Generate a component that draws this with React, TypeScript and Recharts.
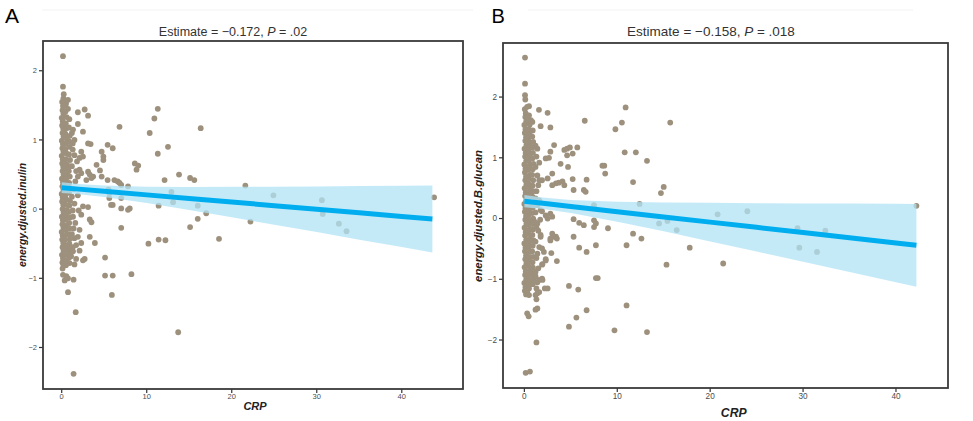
import React from "react";
import { ComposedChart, Scatter, Area, Line, XAxis, YAxis } from "recharts";

const FONT = "'Liberation Sans', Arial, sans-serif";
const POINT_COLOR = "#9d917d";
const FIT_COLOR = "#00aeef";
const BAND_COLOR = "#b0e3f5";

const X_TICKS = [0, 10, 20, 30, 40];
const Y_TICKS = [-2, -1, 0, 1, 2];

// Panel A: CRP vs energy-adjusted inulin
const columnA: [number, number][] = [
  [0.05, 1.55], [0.15, 1.49], [0.1, 1.43], [0.2, 1.38], [0.0, 1.32], [0.12, 1.27], [0.05, 1.21], [0.18, 1.16],
  [0.1, 1.1], [0.22, 1.05], [0.02, 0.99], [0.14, 0.94], [0.08, 0.88], [0.2, 0.83], [0.0, 0.77], [0.12, 0.72],
  [0.06, 0.66], [0.18, 0.61], [0.1, 0.55], [0.22, 0.5], [0.03, 0.44], [0.15, 0.39], [0.08, 0.33], [0.2, 0.28],
  [0.0, 0.22], [0.12, 0.17], [0.05, 0.11], [0.18, 0.06], [0.1, 0.0], [0.22, -0.05], [0.02, -0.11], [0.14, -0.16],
  [0.08, -0.22], [0.2, -0.27], [0.0, -0.33], [0.12, -0.38], [0.06, -0.44], [0.18, -0.49], [0.1, -0.55], [0.22, -0.6],
  [0.03, -0.66], [0.15, -0.71], [0.08, -0.77], [0.2, -0.82], [0.1, -0.86],
  [0.5, 1.52], [0.45, 1.41], [0.58, 1.33], [0.48, 1.24], [0.55, 1.17], [0.42, 1.09], [0.6, 1.02], [0.5, 0.95],
  [0.45, 0.87], [0.58, 0.8], [0.48, 0.72], [0.55, 0.65], [0.42, 0.58], [0.6, 0.5], [0.5, 0.43], [0.45, 0.36],
  [0.58, 0.29], [0.48, 0.21], [0.55, 0.14], [0.42, 0.07], [0.6, -0.01], [0.5, -0.08], [0.45, -0.15], [0.58, -0.23],
  [0.48, -0.3], [0.55, -0.37], [0.42, -0.44], [0.6, -0.52], [0.5, -0.59], [0.45, -0.66], [0.58, -0.74], [0.5, -0.81],
  [0.9, 1.3], [0.85, 1.18], [0.95, 1.06], [0.88, 0.98], [0.92, 0.9], [0.86, 0.79], [0.98, 0.71], [0.9, 0.62],
  [0.84, 0.55], [0.95, 0.47], [0.88, 0.38], [0.92, 0.31], [0.86, 0.24], [0.98, 0.12], [0.9, 0.05], [0.84, -0.04],
  [0.95, -0.12], [0.88, -0.2], [0.92, -0.28], [0.86, -0.36], [0.98, -0.43], [0.9, -0.5], [0.84, -0.57], [0.95, -0.64],
  [0.88, -0.7], [0.92, -0.78],
  [1.3, 0.95], [1.5, 0.78], [1.2, 0.62], [1.6, 0.4], [1.4, 0.29], [1.2, 0.18], [1.5, 0.08], [1.3, -0.02],
  [1.6, -0.2], [1.4, -0.28], [1.2, -0.36], [1.5, -0.42], [1.7, -0.52], [1.3, -0.55], [1.1, -0.68], [1.5, -0.8],
  [1.2, 1.1], [1.7, 0.55], [1.9, 0.2], [2.0, -0.02], [1.9, -0.4], [2.1, -0.6],
];

const spreadA: [number, number][] = [
  [0.15, 2.21], [0.15, 1.77], [0.24, 1.66], [0.2, 1.6], [0.5, 1.55], [0.74, 1.58], [0.74, 1.45], [0.4, 1.5],
  [1.9, 1.4], [2.7, 1.44], [3.1, 1.35], [1.9, 1.23], [2.5, 1.12], [1.33, 1.15],
  [6.8, 1.19], [10.35, 1.1], [10.9, 1.31], [11.3, 1.45], [16.35, 1.17],
  [1.5, 1.0], [1.3, 0.86], [3.1, 0.95], [3.4, 0.94], [2.3, 0.83], [2.1, 0.74], [2.5, 0.76], [1.8, 0.69],
  [4.1, 0.64], [4.7, 0.83], [4.9, 0.76], [4.9, 0.71], [5.4, 0.93], [6.0, 0.88],
  [2.1, 0.57], [2.3, 0.52], [1.9, 0.47], [3.1, 0.54], [3.3, 0.5], [3.7, 0.47], [2.9, 0.42], [3.5, 0.45],
  [4.5, 0.56], [4.7, 0.47], [5.4, 0.42], [6.2, 0.42], [6.6, 0.4], [6.8, 0.38], [7.0, 0.35], [7.8, 0.33],
  [8.6, 0.66], [9.0, 0.63], [8.8, 0.57], [11.3, 0.8], [12.5, 0.9], [13.8, 0.5], [12.1, 0.42], [15.1, 0.45], [15.6, 0.42],
  [5.5, 0.28], [5.6, 0.23], [5.6, 0.16], [5.8, 0.06], [7.0, 0.16],
  [12.9, 0.25], [13.1, 0.1], [16.0, 0.05], [17.0, -0.06], [16.0, -0.14], [15.1, -0.26], [11.4, 0.05],
  [11.4, -0.44], [12.2, -0.45], [10.2, -0.5], [7.0, -0.27], [6.0, 0.06], [7.0, 0.01], [7.8, -0.01], [8.0, 0.01],
  [2.5, 0.04], [3.1, 0.03], [2.3, -0.08], [3.3, -0.15], [3.5, -0.19], [2.1, -0.3], [3.3, -0.4], [3.9, -0.49], [2.3, -0.49],
  [5.1, -0.7], [18.5, -0.43], [21.6, 0.34], [22.2, -0.18], [24.9, 0.2], [30.6, 0.13], [30.7, -0.07], [32.6, -0.21],
  [33.5, -0.32], [43.8, 0.17],
  [1.33, -0.11], [1.33, -0.61], [1.7, -0.72], [2.5, -0.74], [2.7, -0.72],
  [0.15, -0.95], [0.55, -0.97], [0.74, -1.0], [0.35, -1.03], [1.4, -1.02], [0.74, -1.2], [1.65, -1.49], [1.4, -2.38],
  [5.1, -0.96], [6.0, -0.96], [5.9, -1.24], [8.2, -0.94], [13.7, -1.78],
];

// fitted line and 95% band, panel A
const bandCrpA = [0, 2, 5, 10, 15, 20, 25, 30, 35, 40, 43.6];
const fitA = [0.31, 0.289, 0.258, 0.206, 0.154, 0.102, 0.05, -0.002, -0.054, -0.106, -0.143];
const lowA = [0.232, 0.214, 0.176, 0.087, -0.013, -0.118, -0.225, -0.332, -0.441, -0.549, -0.627];
const highA = [0.388, 0.364, 0.34, 0.325, 0.321, 0.322, 0.325, 0.328, 0.333, 0.337, 0.341];

// Panel B: CRP vs energy-adjusted beta-glucan
const columnB: [number, number][] = [
  [0.05, 1.8], [0.15, 1.73], [0.1, 1.67], [0.2, 1.6], [0.0, 1.54], [0.12, 1.47], [0.05, 1.41], [0.18, 1.34],
  [0.1, 1.28], [0.22, 1.21], [0.02, 1.15], [0.14, 1.08], [0.08, 1.02], [0.2, 0.95], [0.0, 0.89], [0.12, 0.82],
  [0.06, 0.76], [0.18, 0.69], [0.1, 0.63], [0.22, 0.56], [0.03, 0.5], [0.15, 0.43], [0.08, 0.37], [0.2, 0.3],
  [0.0, 0.24], [0.12, 0.17], [0.05, 0.11], [0.18, 0.04], [0.1, -0.02], [0.22, -0.09], [0.02, -0.15], [0.14, -0.22],
  [0.08, -0.28], [0.2, -0.35], [0.0, -0.41], [0.12, -0.48], [0.06, -0.54], [0.18, -0.61], [0.1, -0.67], [0.22, -0.74],
  [0.03, -0.8], [0.15, -0.87], [0.08, -0.93], [0.2, -1.0], [0.0, -1.06], [0.12, -1.13], [0.05, -1.19], [0.18, -1.25],
  [0.5, 1.7], [0.45, 1.62], [0.58, 1.55], [0.48, 1.47], [0.55, 1.4], [0.42, 1.32], [0.6, 1.25], [0.5, 1.17],
  [0.45, 1.1], [0.58, 1.02], [0.48, 0.95], [0.55, 0.87], [0.42, 0.8], [0.6, 0.72], [0.5, 0.65], [0.45, 0.57],
  [0.58, 0.5], [0.48, 0.42], [0.55, 0.35], [0.42, 0.27], [0.6, 0.2], [0.5, 0.12], [0.45, 0.05], [0.58, -0.03],
  [0.48, -0.1], [0.55, -0.18], [0.42, -0.25], [0.6, -0.33], [0.5, -0.4], [0.45, -0.48], [0.58, -0.55], [0.48, -0.63],
  [0.55, -0.7], [0.42, -0.78], [0.6, -0.85], [0.5, -0.93], [0.45, -1.0], [0.58, -1.08], [0.5, -1.15],
  [0.9, 1.45], [0.85, 1.35], [0.95, 1.26], [0.88, 1.17], [0.92, 1.08], [0.86, 0.99], [0.98, 0.9], [0.9, 0.81],
  [0.84, 0.72], [0.95, 0.63], [0.88, 0.54], [0.92, 0.45], [0.86, 0.36], [0.98, 0.27], [0.9, 0.18], [0.84, 0.09],
  [0.95, 0.0], [0.88, -0.09], [0.92, -0.18], [0.86, -0.27], [0.98, -0.36], [0.9, -0.45], [0.84, -0.54], [0.95, -0.63],
  [0.88, -0.72], [0.92, -0.81], [0.86, -0.9], [0.98, -0.99], [0.9, -1.08],
  [1.3, 1.02], [1.2, 0.85], [1.5, 0.55], [1.3, 0.45], [1.2, 0.33], [1.4, 0.22], [1.3, -0.15], [1.5, -0.2],
  [1.2, -0.38], [1.4, -0.58], [1.3, -0.65], [1.5, -0.82], [1.2, -0.95], [1.4, -1.05], [1.6, 0.92], [1.6, 0.3],
];

const spreadB: [number, number][] = [
  [0.07, 2.65], [0.07, 2.22], [0.07, 2.03], [0.1, 1.96], [0.3, 1.84], [0.5, 1.85], [1.57, 1.79], [2.5, 1.74],
  [0.7, 1.62], [0.86, 1.59], [1.75, 1.52], [2.8, 1.5], [6.5, 1.61], [9.8, 1.47], [10.5, 1.58], [10.9, 1.83], [15.7, 1.58],
  [1.2, 1.2], [1.4, 1.15], [3.2, 1.21], [2.8, 1.1], [2.3, 0.99], [2.65, 1.0], [4.3, 1.13], [4.6, 1.15], [4.9, 1.17],
  [5.7, 1.17], [4.6, 1.04], [5.2, 1.07], [3.9, 0.9], [4.7, 0.85],
  [8.4, 0.87], [8.6, 0.87], [8.7, 0.74], [10.8, 1.09], [12.0, 1.09], [13.2, 0.95], [11.7, 0.6], [15.0, 0.52], [14.7, 0.42],
  [1.4, 0.71], [1.6, 0.63], [1.9, 0.63], [2.5, 0.66], [3.0, 0.74], [3.0, 0.55], [3.4, 0.58], [3.7, 0.59], [4.1, 0.61],
  [4.3, 0.55], [5.2, 0.65], [5.3, 0.47], [6.4, 0.47], [6.6, 0.44], [6.7, 0.64],
  [7.5, 0.22], [12.4, 0.24], [14.5, -0.08], [15.4, -0.04], [16.4, -0.19], [20.8, 0.07], [24.0, 0.12], [29.4, -0.16],
  [32.4, -0.2], [29.6, -0.48], [31.5, -0.55], [42.2, 0.21], [17.8, -0.48], [21.4, -0.74], [15.3, -0.76],
  [5.3, -0.01], [5.9, -0.07], [6.4, -0.11], [7.5, -0.03], [7.7, -0.08], [7.5, -0.14], [9.0, -0.16], [11.7, -0.25],
  [12.6, -0.33], [11.0, -0.44], [7.7, -0.44], [5.3, -0.3], [5.9, -0.48], [6.7, -0.55],
  [1.75, -0.3], [2.8, -0.33], [3.2, -0.3], [3.0, -0.25], [3.4, -0.3], [2.8, -0.36], [3.5, -0.33], [1.75, -0.27],
  [1.6, -0.47], [1.9, -0.49], [2.1, -0.55], [2.9, -0.57], [2.3, -0.67], [3.5, -0.7], [1.95, -0.75],
  [2.8, 0.08], [3.0, 0.03], [1.75, 0.14], [1.2, 0.1], [1.9, 0.12], [2.3, 0.05], [1.7, -0.02], [1.1, -0.05], [2.5, 0.0], [1.4, -0.08],
  [0.3, -1.56], [0.46, -1.61], [1.4, -1.48], [1.2, -1.5], [1.3, -2.04], [0.14, -2.54], [0.6, -2.52],
  [4.8, -1.11], [5.8, -1.17], [6.7, -1.51], [5.6, -1.63], [4.8, -1.78], [7.7, -0.98], [7.9, -0.98], [9.7, -1.84],
  [11.0, -1.43], [13.2, -1.87],
  [1.95, -1.01], [2.2, -1.15], [2.5, -1.15], [1.3, -1.15], [1.6, -1.21], [1.2, -1.26], [1.3, -1.33], [0.3, -1.21],
  [0.5, -1.26], [0.5, -1.07], [0.86, -1.04], [1.0, -0.93], [1.57, -1.01], [1.9, -0.99], [1.4, -1.23], [1.9, -0.76],
  [2.3, -0.69], [1.2, -0.88],
];

// fitted line and 95% band, panel B
const bandCrpB = [0, 2, 5, 10, 15, 20, 25, 30, 35, 40, 42.2];
const fitB = [0.285, 0.251, 0.199, 0.113, 0.027, -0.059, -0.145, -0.231, -0.317, -0.403, -0.441];
const lowB = [0.184, 0.156, 0.092, -0.052, -0.211, -0.376, -0.543, -0.711, -0.88, -1.048, -1.123];
const highB = [0.386, 0.346, 0.306, 0.278, 0.265, 0.258, 0.253, 0.249, 0.246, 0.242, 0.241];

const fmtTick = (v: number) => (v < 0 ? `\u2212${-v}` : `${v}`);

const Dot = (props: any) => <circle cx={props.cx} cy={props.cy} r={2.9} fill={POINT_COLOR} />;

interface PanelProps {
  left: number;
  width: number;
  margin: { top: number; right: number; bottom: number; left: number };
  yAxisWidth: number;
  xDomain: [number, number];
  yDomain: [number, number];
  tickFont: number;
  points: [number, number][];
  bandCrp: number[];
  fit: number[];
  low: number[];
  high: number[];
}

function Panel(p: PanelProps) {
  const rows = p.bandCrp.map((crp, i) => ({ crp, fit: p.fit[i], band: [p.low[i], p.high[i]] }));
  const scatter = p.points.map(([crp, score]) => ({ crp, score }));
  const tick = { fontSize: p.tickFont, fill: "#4d4d4d", fontFamily: FONT };
  return (
    <div style={{ position: "absolute", left: p.left, top: 0 }}>
      <ComposedChart width={p.width} height={421} data={rows} margin={p.margin}>
        <XAxis
          type="number"
          dataKey="crp"
          domain={p.xDomain}
          ticks={X_TICKS}
          interval={0}
          allowDataOverflow
          axisLine={false}
          tickSize={4}
          tickMargin={1}
          height={20}
          tick={tick}
          tickLine={{ stroke: "#333", strokeWidth: 1.2 }}
        />
        <YAxis
          type="number"
          domain={p.yDomain}
          ticks={Y_TICKS}
          interval={0}
          allowDataOverflow
          axisLine={false}
          tickSize={4}
          tickMargin={2}
          width={p.yAxisWidth}
          tick={tick}
          tickLine={{ stroke: "#333", strokeWidth: 1.2 }}
          tickFormatter={fmtTick}
        />
        <Scatter data={scatter} dataKey="score" shape={Dot} isAnimationActive={false} zIndex={50} />
        <Area
          type="linear"
          dataKey="band"
          fill={BAND_COLOR}
          fillOpacity={0.75}
          stroke="none"
          isAnimationActive={false}
          zIndex={100}
        />
        <Line
          type="linear"
          dataKey="fit"
          stroke={FIT_COLOR}
          strokeWidth={5}
          dot={false}
          activeDot={false}
          isAnimationActive={false}
          zIndex={400}
        />
      </ComposedChart>
    </div>
  );
}

export default function App() {
  return (
    <div style={{ position: "absolute", left: 0, top: 0, width: 973, height: 421, background: "#fff", fontFamily: FONT }}>
      <Panel
        left={0}
        width={480}
        margin={{ top: 41, right: 17, bottom: 12, left: 3 }}
        yAxisWidth={40}
        xDomain={[-2.2, 47.2]}
        yDomain={[-2.6, 2.43]}
        tickFont={7.5}
        points={[...columnA, ...spreadA]}
        bandCrp={bandCrpA}
        fit={fitA}
        low={lowA}
        high={highA}
      />
      <Panel
        left={480}
        width={493}
        margin={{ top: 43, right: 25, bottom: 13, left: 3 }}
        yAxisWidth={20}
        xDomain={[-2.3, 45.6]}
        yDomain={[-2.79, 2.89]}
        tickFont={8.2}
        points={[...columnB, ...spreadB]}
        bandCrp={bandCrpB}
        fit={fitB}
        low={lowB}
        high={highB}
      />
      <svg width={973} height={421} style={{ position: "absolute", left: 0, top: 0, pointerEvents: "none" }}>
        <line x1={42} y1={10} x2={473} y2={10} stroke="#f3f3f3" />
        <line x1={528} y1={10} x2={913} y2={10} stroke="#f3f3f3" />
        <rect x={43} y={41} width={420} height={348} fill="none" stroke="#3a3a3a" strokeWidth={1.8} />
        <rect x={503} y={43} width={445} height={345} fill="none" stroke="#3a3a3a" strokeWidth={1.8} />
        <g fontFamily={FONT}>
          <text x={5} y={23.3} fontSize={21} fill="#000">A</text>
          <text x={491.5} y={22.7} fontSize={20} fill="#000">B</text>
          <text x={233} y={35.5} fontSize={12.5} fill="#333" textAnchor="middle">
            Estimate = {"\u2212"}0.172, <tspan fontStyle="italic">P</tspan> = .02
          </text>
          <text x={711} y={36} fontSize={13.5} fill="#333" textAnchor="middle">
            Estimate = {"\u2212"}0.158, <tspan fontStyle="italic">P</tspan> = .018
          </text>
          <text x={255} y={410} fontSize={11} fontWeight="bold" fontStyle="italic" fill="#222" textAnchor="middle">
            CRP
          </text>
          <text x={733.7} y={416.7} fontSize={12.2} fontWeight="bold" fontStyle="italic" fill="#222" textAnchor="middle">
            CRP
          </text>
          <text
            x={26}
            y={215}
            fontSize={10.4}
            fontWeight="bold"
            fontStyle="italic"
            fill="#222"
            textAnchor="middle"
            transform="rotate(-90 26 215)"
          >
            energy.djusted.inulin
          </text>
          <text
            x={482}
            y={216}
            fontSize={11.4}
            fontWeight="bold"
            fontStyle="italic"
            fill="#222"
            textAnchor="middle"
            transform="rotate(-90 482 216)"
          >
            energy.djusted.B.glucan
          </text>
        </g>
      </svg>
    </div>
  );
}
